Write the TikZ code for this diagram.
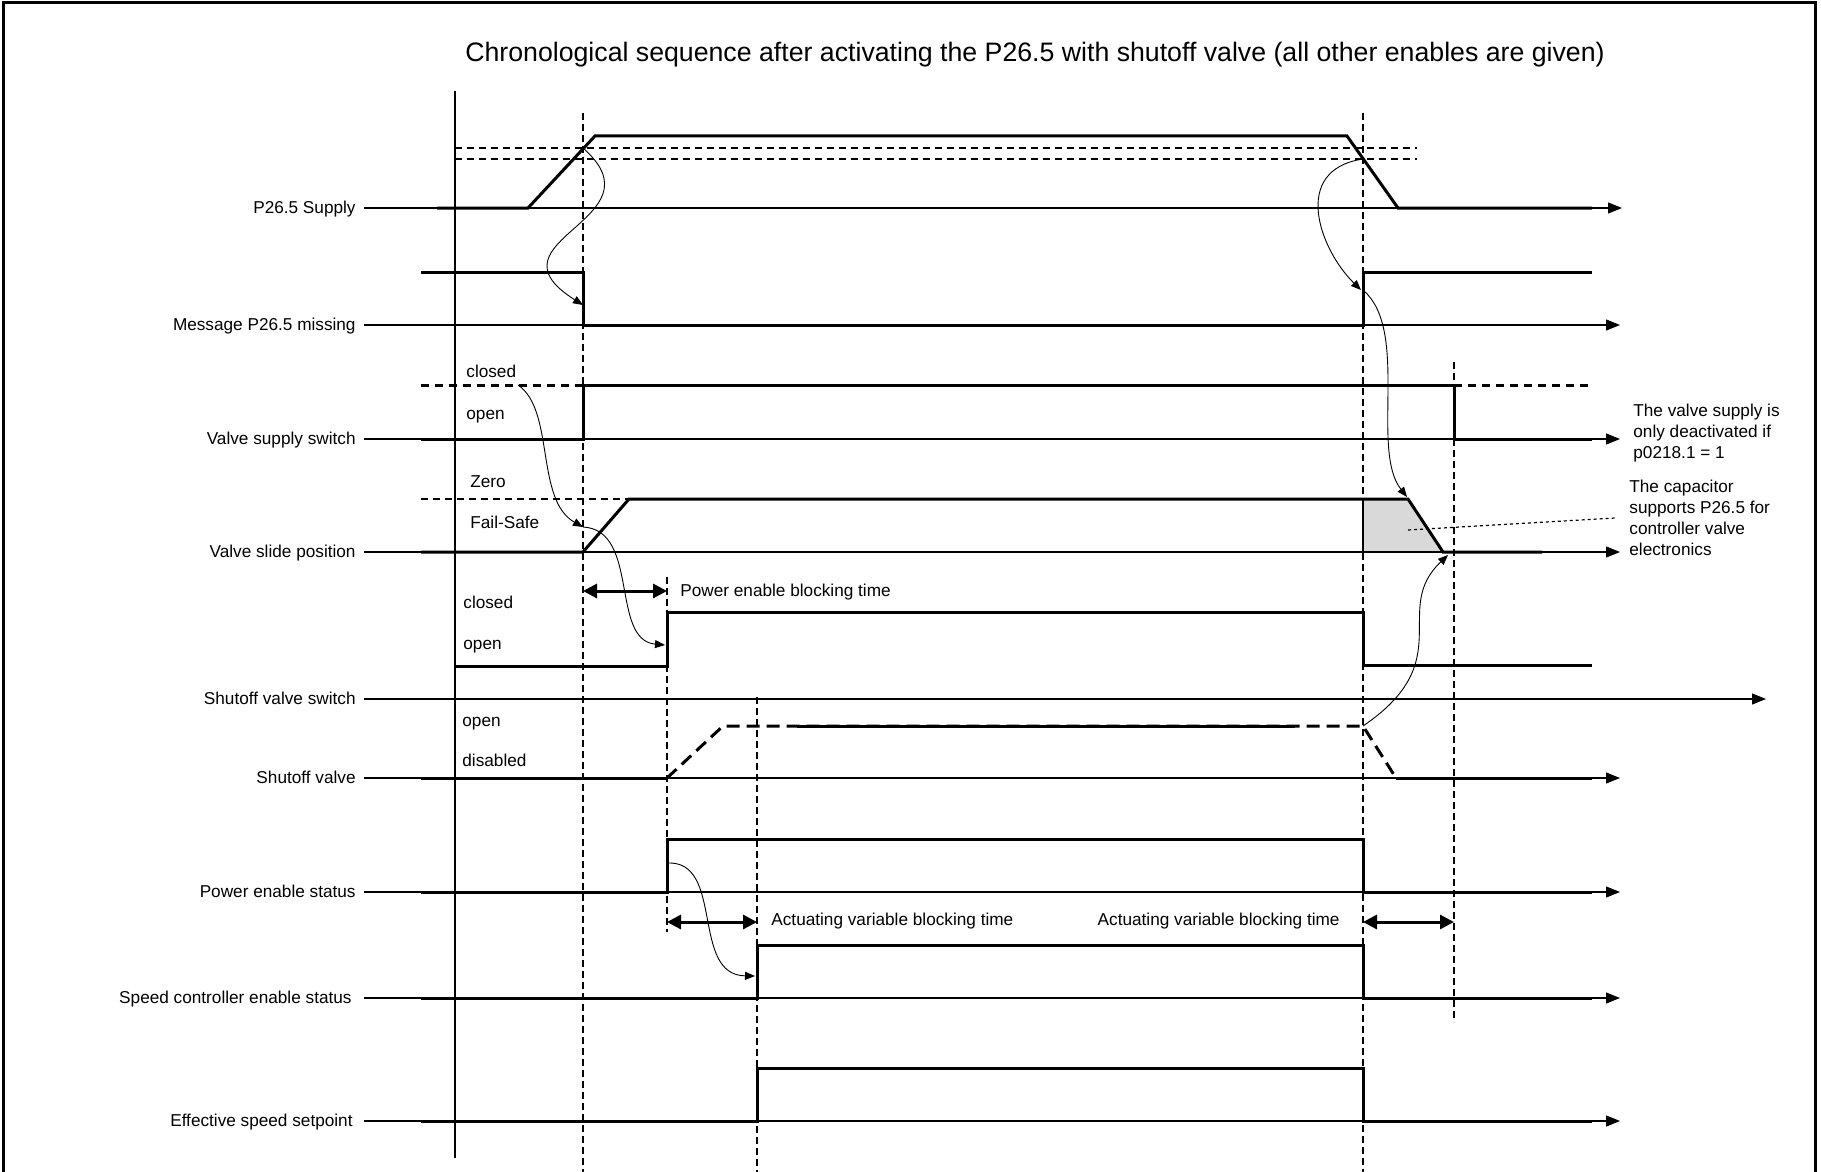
\documentclass[tikz,border=0pt]{standalone}
\usepackage{fontspec}
\setmainfont{Liberation Sans}
\usetikzlibrary{arrows.meta}
\tikzset{
  sig/.style={line width=1.5pt},
  sigdash/.style={sig, dash pattern=on 4pt off 3pt},
  svdash/.style={sig, dash pattern=on 6.5pt off 3.5pt},
  tax/.style={line width=0.6pt, -{Triangle[length=7pt, width=5.5pt]}},
  lead/.style={line width=0.6pt},
  tline/.style={line width=0.6pt, dash pattern=on 3.5pt off 2pt},
  thr/.style={line width=0.6pt, dash pattern=on 3.5pt off 2.5pt},
  dotline/.style={line width=0.6pt, dash pattern=on 1.5pt off 1.5pt},
  dimarr/.style={line width=1.5pt, {Triangle[length=7pt, width=7pt]}-{Triangle[length=7pt, width=7pt]}},
  cause/.style={line width=0.45pt, -{Triangle[length=5pt, width=4pt]}},
  sname/.style={font=\fontsize{8.6pt}{10.4pt}\selectfont, anchor=mid east, inner sep=0pt},
  lvl/.style={font=\fontsize{8.6pt}{10.4pt}\selectfont, anchor=mid west, inner sep=0pt},
  note/.style={font=\fontsize{8.6pt}{10.4pt}\selectfont, align=left, anchor=north west, inner sep=0pt}
}
\begin{document}
\begin{tikzpicture}[x=0.5pt, y=-0.5pt]
\useasboundingbox (0,0) rectangle (1821,1172);
\draw[line width=1.5pt] (3,1172) -- (3,3) -- (1815,3) -- (1815,1172);

\node[font=\fontsize{13.35pt}{16pt}\selectfont, inner sep=0pt] (title) at (1035,55)
  {Chronological sequence after activating the P26.5 with shutoff valve (all other enables are given)};

\node[sname] (supply) at (356,208) {P26.5 Supply};
\node[sname] (msg) at (356,325) {Message P26.5 missing};
\node[sname] (vsw) at (356,439) {Valve supply switch};
\node[sname] (slide) at (356,552) {Valve slide position};
\node[sname] (ssw) at (356,699) {Shutoff valve switch};
\node[sname] (sv) at (356,778) {Shutoff valve};
\node[sname] (pwr) at (356,892) {Power enable status};
\node[sname] (spd) at (352,998) {Speed controller enable status};
\node[sname] (eff) at (353,1121) {Effective speed setpoint};

\node[lvl] (vclosed) at (466,372) {closed};
\node[lvl] (vopen) at (466,414) {open};
\node[lvl] (zero) at (470,482) {Zero};
\node[lvl] (fsafe) at (470,523) {Fail-Safe};
\node[lvl] (sclosed) at (463,603) {closed};
\node[lvl] (sopen) at (463,644) {open};
\node[lvl] (svopen) at (462,721) {open};
\node[lvl] (svdis) at (462,761) {disabled};

\node[lvl] (pebt) at (680,591) {Power enable blocking time};
\node[lvl] (avbt) at (771,920) {Actuating variable blocking time};
\node[lvl, anchor=mid east] (avbtoff) at (1340,920) {Actuating variable blocking time};

\node[note] (vnote) at (1633,404) {The valve supply is\\only deactivated if\\p0218.1 = 1};
\node[note] (cnote) at (1629,480) {The capacitor\\supports P26.5 for\\controller valve\\electronics};

\draw[lead] (455,91) -- (455,1158);
\draw[tline] (583,113) -- (583,1172);
\draw[tline] (667,577) -- (667,932);
\draw[tline] (757,697) -- (757,1172);
\draw[tline] (1363,113) -- (1363,1172);
\draw[tline] (1454,362) -- (1454,1022);

\draw[tax] (supply.mid east) ++(8,0) -- (1622,208);
\draw[sig] (437,208) -- (528,208) -- (595,136) -- (1347,136) -- (1398,208) -- (1592,208);
\draw[thr] (455,148) -- (1417,148);
\draw[thr] (455,159) -- (1417,159);

\draw[tax] (msg.mid east) ++(8,0) -- (1620,325);
\draw[sig] (421,272) -- (583,272) -- (583,325) -- (1363,325) -- (1363,272) -- (1592,272);

\draw[tax] (vsw.mid east) ++(8,0) -- (1620,439);
\draw[sig] (421,439) -- (583,439) -- (583,385) -- (1454,385) -- (1454,439) -- (1592,439);
\draw[sigdash] (421,385) -- (583,385);
\draw[sigdash] (1454,385) -- (1592,385);

\fill[gray!30] (1363,499) -- (1408,499) -- (1443,552) -- (1363,552) -- cycle;
\draw[lead] (1363,499) -- (1363,552);
\draw[tax] (slide.mid east) ++(8,0) -- (1620,552);
\draw[sig] (421,552) -- (583,552) -- (629,499) -- (1408,499) -- (1443,552) -- (1542,552);
\draw[thr] (421,499) -- (629,499);
\draw[dotline] (1408,530) -- (1615,518);

\draw[tax] (ssw.mid east) ++(8,0) -- (1766,699);
\draw[sig] (455,666) -- (667,666) -- (667,612) -- (1363,612) -- (1363,665) -- (1592,665);

\draw[tax] (sv.mid east) ++(8,0) -- (1620,778);
\draw[sig] (421,778) -- (667,778);
\draw[svdash] (667,778) -- (723,726) -- (1363,726) -- (1396,778);
\draw[sig] (797,726) -- (1295,726);
\draw[sig] (1396,778) -- (1592,778);

\draw[tax] (pwr.mid east) ++(8,0) -- (1620,892);
\draw[sig] (421,892) -- (667,892) -- (667,839) -- (1363,839) -- (1363,892) -- (1592,892);

\draw[tax] (spd.mid east) ++(12,0) -- (1620,998);
\draw[sig] (421,998) -- (757,998) -- (757,945) -- (1363,945) -- (1363,998) -- (1592,998);

\draw[tax] (eff.mid east) ++(11,0) -- (1620,1121);
\draw[sig] (421,1121) -- (757,1121) -- (757,1068) -- (1363,1068) -- (1363,1121) -- (1592,1121);

\draw[dimarr] (583,591) -- (667,591);
\draw[dimarr] (667,922) -- (757,922);
\draw[dimarr] (1363,922) -- (1454,922);

\draw[cause] (583,148) .. controls (665,220) and (480,240) .. (583,305);
\draw[cause] (518,385) .. controls (555,410) and (535,500) .. (583,527);
\draw[cause] (583,527) .. controls (640,530) and (610,640) .. (665,645);
\draw[cause] (667,863) .. controls (725,860) and (690,975) .. (755,976);
\draw[cause] (1363,159) .. controls (1290,170) and (1320,250) .. (1361,290);
\draw[cause] (1363,290) .. controls (1410,330) and (1370,450) .. (1407,497);
\draw[cause] (1363,726) .. controls (1460,660) and (1390,610) .. (1448,555);
\end{tikzpicture}
\end{document}
